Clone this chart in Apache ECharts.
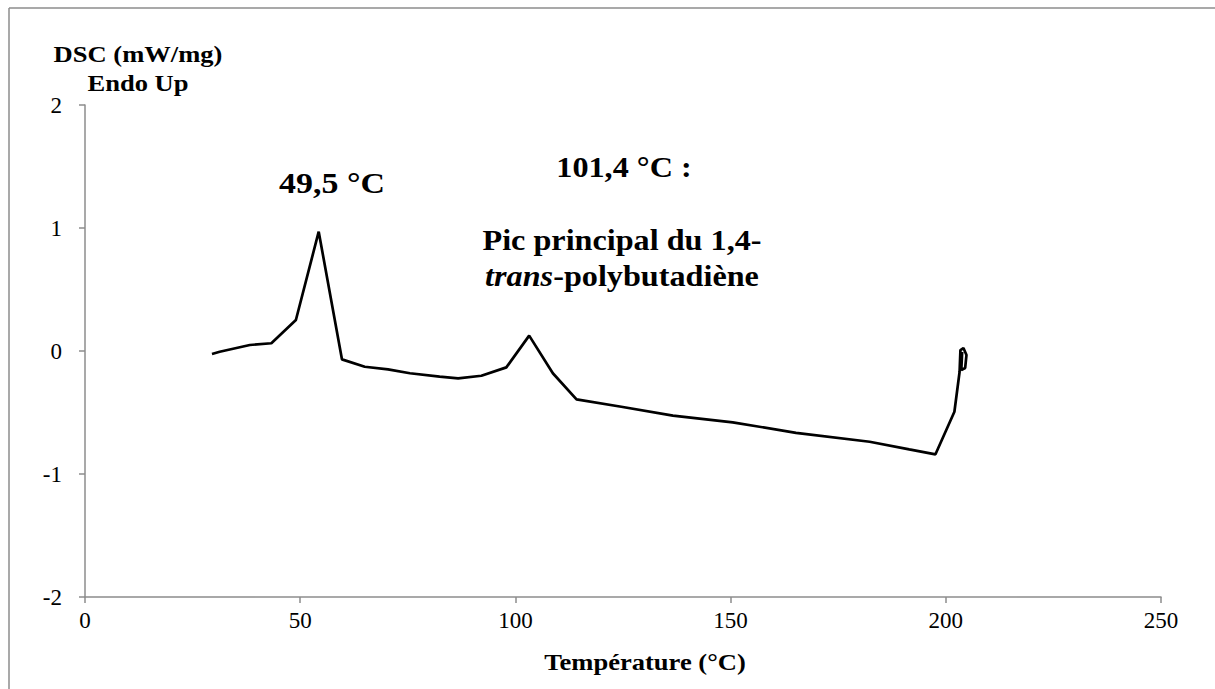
<!DOCTYPE html>
<html>
<head>
<meta charset="utf-8">
<script src="https://cdn.jsdelivr.net/npm/echarts@6/dist/echarts.min.js"></script>
<style>
  html, body { margin: 0; padding: 0; background: #fff; }
  #dsc_chart { width: 1215px; height: 689px; }
</style>
</head>
<body>
<div id="dsc_chart"></div>
<script>
// temperatures (°C) and DSC signal (mW/mg)
const temps = [29.5, 31.3, 38.3, 43.3, 49.0, 54.3, 59.7, 65.0, 70.4, 75.5, 82.4, 86.7,
  92.1, 97.9, 103.2, 108.7, 114.2, 124.6, 136.6, 150.5, 165.2, 182.3, 191.5, 197.6,
  202.0, 203.2, 203.4, 204.1, 204.8, 204.5, 203.6, 203.8];
const dsc = [-0.024, -0.006, 0.049, 0.063, 0.252, 0.97, -0.068, -0.128, -0.149, -0.181, -0.209, -0.222,
  -0.201, -0.133, 0.125, -0.181, -0.393, -0.453, -0.526, -0.58, -0.665, -0.738, -0.80, -0.84,
  -0.494, -0.171, 0.008, 0.024, -0.033, -0.138, -0.155, -0.008];
const xTicks = [0, 50, 100, 150, 200, 250];
const yTicks = [-2, -1, 0, 1, 2];

const serif = '"Times New Roman", "Liberation Serif", serif';
const axisGrey = '#8c8c8c';
const stretch = 1.13; // the source text is a bit wider than plain Times

const myChart = echarts.init(document.getElementById('dsc_chart'), null, { renderer: 'svg' });

// bold label helper for the free texts
const label = (x, y, text, size, extra) => ({
  type: 'text', x, y, scaleX: stretch,
  style: Object.assign({
    text, font: 'bold ' + size + 'px ' + serif, fill: '#000',
    align: 'center', verticalAlign: 'middle'
  }, extra || {})
});

const option = {
  animation: false,
  backgroundColor: '#fff',
  grid: { left: 85, right: 54, top: 105, bottom: 92 },
  xAxis: {
    type: 'value',
    min: xTicks[0],
    max: xTicks[xTicks.length - 1],
    interval: xTicks[1] - xTicks[0],
    axisLine: { onZero: false, lineStyle: { color: axisGrey, width: 1.5 } },
    axisTick: { show: true, length: 6, lineStyle: { color: axisGrey, width: 1.5 } },
    axisLabel: { margin: 12, fontFamily: serif, fontSize: 23, color: '#000' },
    splitLine: { show: false }
  },
  yAxis: {
    type: 'value',
    min: yTicks[0],
    max: yTicks[yTicks.length - 1],
    interval: yTicks[1] - yTicks[0],
    axisLine: { show: true, onZero: false, lineStyle: { color: axisGrey, width: 1.5 } },
    axisTick: { show: true, length: 6, lineStyle: { color: axisGrey, width: 1.5 } },
    axisLabel: { margin: 23, fontFamily: serif, fontSize: 23, color: '#000' },
    splitLine: { show: false }
  },
  series: [
    {
      type: 'line',
      data: temps.map((t, i) => [t, dsc[i]]),
      showSymbol: false,
      smooth: false,
      lineStyle: { color: '#000', width: 2.7 },
      itemStyle: { color: '#000' }
    }
  ],
  graphic: [
    { type: 'line', shape: { x1: 9, y1: 8, x2: 9, y2: 689 }, style: { stroke: axisGrey, lineWidth: 1.5 } },
    { type: 'line', shape: { x1: 9, y1: 8, x2: 1215, y2: 8 }, style: { stroke: axisGrey, lineWidth: 1.5 } },
    label(138, 54, 'DSC (mW/mg)', 23.5),
    label(138, 83, 'Endo Up', 23.5),
    label(645, 662, 'Température (°C)', 23.5),
    label(332, 183, '49,5 °C', 30),
    label(624, 168, '101,4 °C :', 28.5),
    label(622, 241, 'Pic principal du 1,4-', 28.5),
    label(622, 277, '', 28.5, {
      text: '{i|trans}{b|-polybutadiène}',
      rich: {
        i: { font: 'italic bold 28.5px ' + serif, fill: '#000' },
        b: { font: 'bold 28.5px ' + serif, fill: '#000' }
      }
    })
  ]
};
myChart.setOption(option);
</script>
</body>
</html>
